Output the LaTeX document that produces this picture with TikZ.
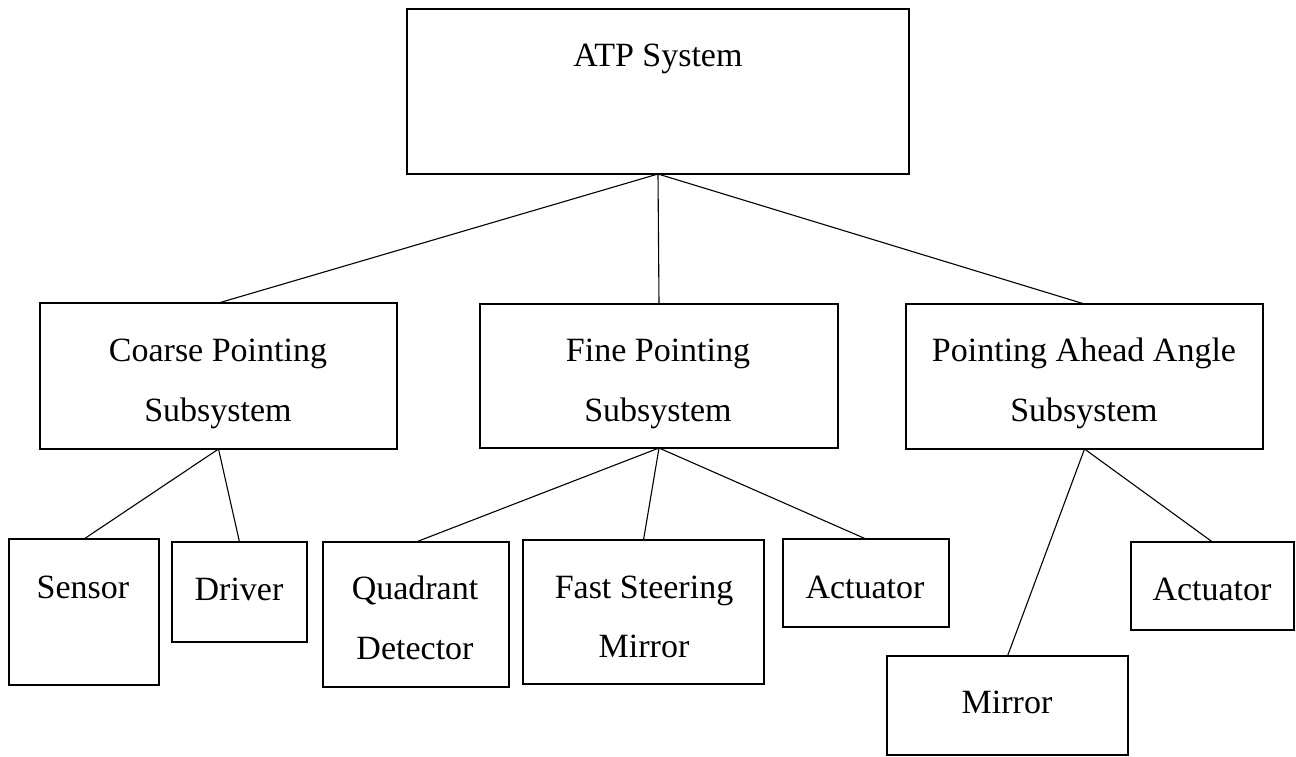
\documentclass[tikz,border=0pt]{standalone}
\usepackage{fontspec}
\setmainfont{Liberation Serif}
\begin{document}
\begin{tikzpicture}[x=1pt,y=-1pt,
  box/.style={draw, line width=1.3pt, inner sep=0pt, outer sep=0pt},
  lbl/.style={anchor=base, inner sep=0pt, font=\fontsize{34}{40}\selectfont},
  link/.style={line width=1.1pt}]
\useasboundingbox[fill=white] (0,0) rectangle (1296,756);
% boxes
\node[box, minimum width=502pt, minimum height=165pt] (atp) at (658,91.5) {};
\node[box, minimum width=357pt, minimum height=146pt] (cps) at (218.5,376) {};
\node[box, minimum width=358pt, minimum height=144pt] (fps) at (659,376) {};
\node[box, minimum width=357pt, minimum height=145pt] (paa) at (1084.5,376.5) {};
\node[box, minimum width=150pt, minimum height=146pt] (sen) at (84,612) {};
\node[box, minimum width=135pt, minimum height=100pt] (drv) at (239.5,592) {};
\node[box, minimum width=186pt, minimum height=145pt] (qd) at (416,614.5) {};
\node[box, minimum width=241pt, minimum height=144pt] (fsm) at (643.5,612) {};
\node[box, minimum width=166pt, minimum height=88pt] (act1) at (866,583) {};
\node[box, minimum width=163pt, minimum height=88pt] (act2) at (1212.5,586) {};
\node[box, minimum width=241pt, minimum height=99pt] (mir) at (1007.5,705.5) {};
% labels
\node[lbl] (atpT) at (658,66) {ATP System};
\node[lbl] (cpsT1) at (218,361) {Coarse Pointing};
\node[lbl] (cpsT2) at (218,421) {Subsystem};
\node[lbl] (fpsT1) at (658,361) {Fine Pointing};
\node[lbl] (fpsT2) at (658,421) {Subsystem};
\node[lbl] (paaT1) at (1084,361) {Pointing Ahead Angle};
\node[lbl] (paaT2) at (1084,421) {Subsystem};
\node[lbl] (senT) at (83,598) {Sensor};
\node[lbl] (drvT) at (239,600) {Driver};
\node[lbl] (qdT1) at (415,599) {Quadrant};
\node[lbl] (qdT2) at (415,659) {Detector};
\node[lbl] (fsmT1) at (644,598) {Fast Steering};
\node[lbl] (fsmT2) at (644,657) {Mirror};
\node[lbl] (act1T) at (865,598) {Actuator};
\node[lbl] (act2T) at (1212,600) {Actuator};
\node[lbl] (mirT) at (1007,713) {Mirror};
% connectors
\draw[link] (atp.south) -- (cps.north);
\draw[link] (atp.south) -- (fps.north);
\draw[link] (atp.south) -- (paa.north);
\draw[link] (cps.south) -- (sen.north);
\draw[link] (cps.south) -- (drv.north);
\draw[link] (fps.south) -- (qd.north);
\draw[link] (fps.south) -- (fsm.north);
\draw[link] (fps.south) -- (act1.north);
\draw[link] (paa.south) -- (mir.north);
\draw[link] (paa.south) -- (act2.north);
\end{tikzpicture}
\end{document}
